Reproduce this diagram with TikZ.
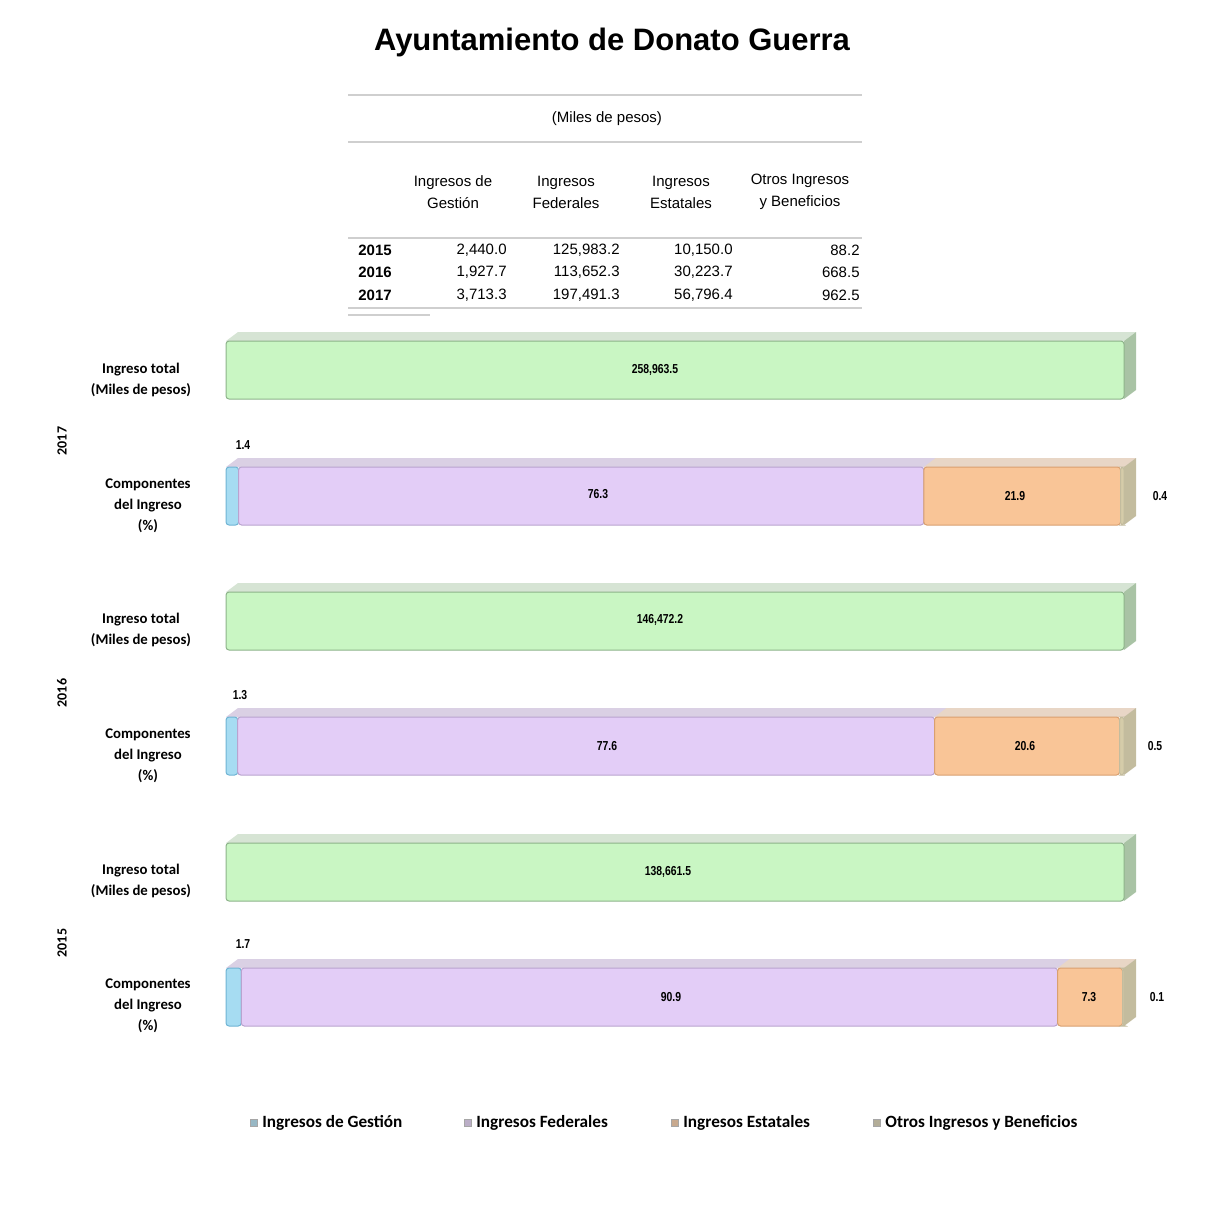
\documentclass[tikz,border=0pt]{standalone}
\usepackage{fontspec}
\usepackage{graphicx}
\setmainfont{Liberation Sans}
\newfontfamily\calfont{Carlito}
\usetikzlibrary{positioning}

\definecolor{totfill}{HTML}{C9F6C3}
\definecolor{totdark}{HTML}{8DB38A}
\definecolor{tottop}{HTML}{D6E4D4}
\definecolor{totside}{HTML}{A9C3A5}
\definecolor{gesfill}{HTML}{A6DCF2}
\definecolor{gesdark}{HTML}{6FB4D4}
\definecolor{fedfill}{HTML}{E3CDF7}
\definecolor{feddark}{HTML}{B9A3CF}
\definecolor{fedtop}{HTML}{DAD0E4}
\definecolor{estfill}{HTML}{F9C597}
\definecolor{estdark}{HTML}{D9A070}
\definecolor{esttop}{HTML}{E8D6C6}
\definecolor{otrfill}{HTML}{D5CCA9}
\definecolor{otrside}{HTML}{C3BC9E}
\definecolor{rulegray}{HTML}{CFCFCF}

\newcommand{\nar}[1]{\scalebox{0.8}[1]{#1}}
% front face, top face and side face of one bar piece
\newcommand{\segfront}[5]{\filldraw[fill=#4, draw=#5, line width=0.5pt, rounded corners=1.5pt] (#1,#3) rectangle (#2,#3+58);}
\newcommand{\segtop}[4]{\fill[#4] (#1,#3) -- (#1+12,#3-9) -- (#2+12,#3-9) -- (#2,#3) -- cycle;}
\newcommand{\segside}[3]{\fill[#3] (#1,#2) -- (#1+12,#2-9) -- (#1+12,#2+49) -- (#1,#2+58) -- cycle;}

\tikzset{
  rowlbl/.style={font=\calfont\bfseries\fontsize{7.4}{10.5}\selectfont, align=center, inner sep=0pt},
  yearlbl/.style={font=\calfont\bfseries\fontsize{7}{8}\selectfont, rotate=90, inner sep=0pt},
  barlbl/.style={font=\bfseries\fontsize{6.5}{7}\selectfont, inner sep=0pt},
  headlbl/.style={font=\fontsize{7.5}{11}\selectfont, align=center, inner sep=0pt},
  numlbl/.style={font=\fontsize{7.5}{9}\selectfont, anchor=east, inner sep=0pt},
  yrlbl/.style={font=\bfseries\fontsize{7.5}{9}\selectfont, anchor=west, inner sep=0pt},
  legtxt/.style={font=\calfont\bfseries\fontsize{8.6}{10}\selectfont, anchor=west, inner sep=0pt},
  legbox/.style={draw=gray!70, line width=0.4pt, minimum size=3.5pt, inner sep=0pt},
  tabrule/.style={draw=rulegray, line width=1.2pt}
}

\begin{document}
\begin{tikzpicture}[x=0.5pt, y=-0.5pt]
    \useasboundingbox (0,0) rectangle (1207,1207);

    % title and table
    \node[font=\bfseries\fontsize{15.5}{18}\selectfont] (title) at (612,42) {Ayuntamiento de Donato Guerra};

    \draw[tabrule] (348,95) -- (862,95);
    \node[headlbl] (miles) at (607,119) {(Miles de pesos)};
    \draw[tabrule] (348,142) -- (862,142);
    \node[headlbl] (hges) at (453,192) {Ingresos de\\Gestión};
    \node[headlbl] (hfed) at (566,192) {Ingresos\\Federales};
    \node[headlbl] (hest) at (681,192) {Ingresos\\Estatales};
    \node[headlbl] (hotr) at (800,192) {Otros Ingresos\\y Beneficios};
    \draw[tabrule] (348,238) -- (862,238);

    \node[yrlbl] (y15) at (358,250) {2015};
    \node[yrlbl] (y16) at (358,272) {2016};
    \node[yrlbl] (y17) at (358,295) {2017};
    \node[numlbl] (g15) at (507,250) {2,440.0};
    \node[numlbl] (g16) at (507,272) {1,927.7};
    \node[numlbl] (g17) at (507,295) {3,713.3};
    \node[numlbl] (f15) at (620,250) {125,983.2};
    \node[numlbl] (f16) at (620,272) {113,652.3};
    \node[numlbl] (f17) at (620,295) {197,491.3};
    \node[numlbl] (e15) at (733,250) {10,150.0};
    \node[numlbl] (e16) at (733,272) {30,223.7};
    \node[numlbl] (e17) at (733,295) {56,796.4};
    \node[numlbl] (o15) at (860,250) {88.2};
    \node[numlbl] (o16) at (860,272) {668.5};
    \node[numlbl] (o17) at (860,295) {962.5};
    \draw[tabrule] (348,308) -- (862,308);
    \draw[draw=rulegray, line width=0.8pt] (348,315) -- (430,315);

    % 2017
    \segtop{226}{1124}{341}{tottop}
    \segside{1124}{341}{totside}
    \segfront{226}{1124}{341}{totfill}{totdark}
    \node[barlbl] (t17) at (655,370) {\nar{258,963.5}};

    \segtop{226}{1124}{467}{fedtop}
    \segtop{923.8}{1124}{467}{esttop}
    \segside{1124}{467}{otrside}
    \segfront{226}{238.6}{467}{gesfill}{gesdark}
    \segfront{238.6}{923.8}{467}{fedfill}{feddark}
    \segfront{923.8}{1120.5}{467}{estfill}{estdark}
    \segfront{1120.5}{1124}{467}{otrfill}{otrside}
    \node[barlbl] (p17g) at (243,445) {\nar{1.4}};
    \node[barlbl] (p17f) at (598,494) {\nar{76.3}};
    \node[barlbl] (p17e) at (1015,496) {\nar{21.9}};
    \node[barlbl] (p17o) at (1160,496) {\nar{0.4}};

    % 2016
    \segtop{226}{1124}{592}{tottop}
    \segside{1124}{592}{totside}
    \segfront{226}{1124}{592}{totfill}{totdark}
    \node[barlbl] (t16) at (660,620) {\nar{146,472.2}};

    \segtop{226}{1124}{717}{fedtop}
    \segtop{934.5}{1124}{717}{esttop}
    \segside{1124}{717}{otrside}
    \segfront{226}{237.7}{717}{gesfill}{gesdark}
    \segfront{237.7}{934.5}{717}{fedfill}{feddark}
    \segfront{934.5}{1119.5}{717}{estfill}{estdark}
    \segfront{1119.5}{1124}{717}{otrfill}{otrside}
    \node[barlbl] (p16g) at (240,695) {\nar{1.3}};
    \node[barlbl] (p16f) at (607,746) {\nar{77.6}};
    \node[barlbl] (p16e) at (1025,746) {\nar{20.6}};
    \node[barlbl] (p16o) at (1155,746) {\nar{0.5}};

    % 2015
    \segtop{226}{1124}{843}{tottop}
    \segside{1124}{843}{totside}
    \segfront{226}{1124}{843}{totfill}{totdark}
    \node[barlbl] (t15) at (668,872) {\nar{138,661.5}};

    \segtop{226}{1124}{968}{fedtop}
    \segtop{1057.6}{1124}{968}{esttop}
    \segside{1124}{968}{otrside}
    \segfront{226}{241.3}{968}{gesfill}{gesdark}
    \segfront{241.3}{1057.6}{968}{fedfill}{feddark}
    \segfront{1057.6}{1122.5}{968}{estfill}{estdark}
    \segfront{1122.5}{1124}{968}{otrfill}{otrside}
    \node[barlbl] (p15g) at (243,944) {\nar{1.7}};
    \node[barlbl] (p15f) at (671,997) {\nar{90.9}};
    \node[barlbl] (p15e) at (1089,997) {\nar{7.3}};
    \node[barlbl] (p15o) at (1157,997) {\nar{0.1}};

    % row labels
    \node[rowlbl] (it17) at (141,380) {Ingreso total\\(Miles de pesos)};
    \node[rowlbl] (ci17) at (148,506) {Componentes\\del Ingreso\\(\%)};
    \node[yearlbl] (yr17) at (62,441) {2017};
    \node[rowlbl] (it16) at (141,630) {Ingreso total\\(Miles de pesos)};
    \node[rowlbl] (ci16) at (148,756) {Componentes\\del Ingreso\\(\%)};
    \node[yearlbl] (yr16) at (62,693) {2016};
    \node[rowlbl] (it15) at (141,881) {Ingreso total\\(Miles de pesos)};
    \node[rowlbl] (ci15) at (148,1006) {Componentes\\del Ingreso\\(\%)};
    \node[yearlbl] (yr15) at (62,943) {2015};

    % legend
    \node[legbox, fill=gesfill!60!gray] (kges) at (254,1123) {};
    \node[legtxt] (lges) at (262,1123) {Ingresos de Gestión};
    \node[legbox, fill=fedfill!60!gray] (kfed) at (468,1123) {};
    \node[legtxt] (lfed) at (476,1123) {Ingresos Federales};
    \node[legbox, fill=estfill!60!gray] (kest) at (675,1123) {};
    \node[legtxt] (lest) at (683,1123) {Ingresos Estatales};
    \node[legbox, fill=otrfill!60!gray] (kotr) at (877,1123) {};
    \node[legtxt] (lotr) at (885,1123) {Otros Ingresos y Beneficios};
\end{tikzpicture}
\end{document}
